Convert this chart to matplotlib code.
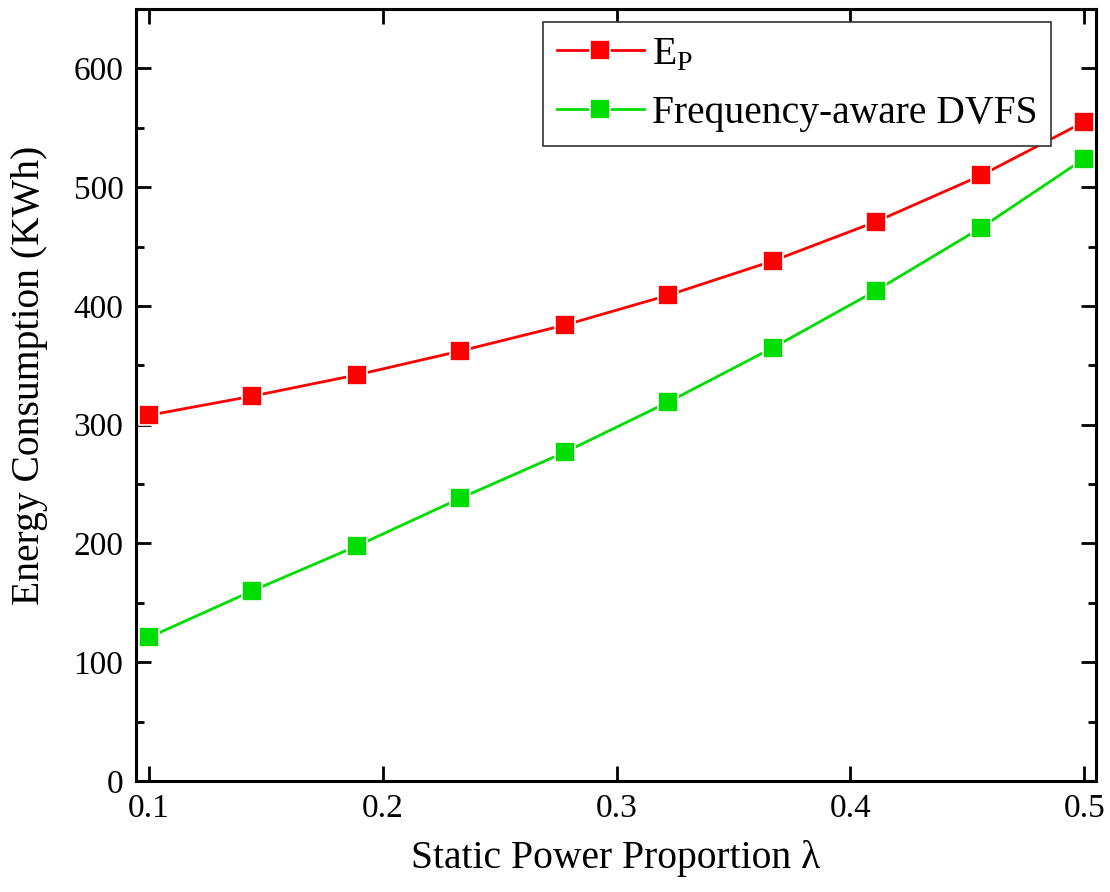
import matplotlib
matplotlib.use('Agg')
import matplotlib.pyplot as plt
from matplotlib.ticker import MultipleLocator

plt.rcParams['font.family'] = 'Liberation Serif'
plt.rcParams['mathtext.fontset'] = 'custom'
plt.rcParams['mathtext.rm'] = 'Liberation Serif'

# static power proportion
lam = [0.1, 0.144, 0.189, 0.233, 0.278, 0.322, 0.367, 0.411, 0.456, 0.5]

# energy consumption (KWh)
e_p = [308, 324, 342, 362, 384, 409, 438, 471, 510, 555]
dvfs = [121, 160, 198, 238, 277, 319, 365, 413, 466, 524]

fig = plt.figure(figsize=(11.1, 8.92), dpi=100)
ax = fig.add_axes([0.1225, 0.1244, 0.865, 0.8655])

ax.plot(lam, e_p, '-s', color='#ff0000', lw=2, ms=14,
        mec='white', mew=1.2, label=r'E$_\mathrm{P}$')
ax.plot(lam, dvfs, '-s', color='#00dd00', lw=2, ms=14,
        mec='white', mew=1.2, label='Frequency-aware DVFS')

ax.set_xlim(0.0944, 0.5051)
ax.set_ylim(0, 650)
ax.set_xticks([0.1, 0.2, 0.3, 0.4, 0.5])
ax.yaxis.set_major_locator(MultipleLocator(100))
ax.yaxis.set_minor_locator(MultipleLocator(50))

ax.tick_params(which='both', direction='in', top=True, right=True,
               width=2, labelsize=24, pad=9)
ax.tick_params(which='major', length=11)
ax.tick_params(which='minor', length=6)
for s in ax.spines.values():
    s.set_linewidth(2.2)

ax.set_xlabel('Static Power Proportion λ', fontsize=28.5)
ax.set_ylabel('Energy Consumption (KWh)', fontsize=28.5)
ax.xaxis.set_label_coords(0.5, -0.0764)
ax.yaxis.set_label_coords(-0.0917, 0.525)

leg = ax.legend(loc='upper left', bbox_to_anchor=(0.424, 0.983), fontsize=28.5,
                fancybox=False, edgecolor='#333333', framealpha=1,
                handlelength=2.2, handletextpad=0.2, borderpad=0.35,
                labelspacing=0.55, borderaxespad=0)
leg.get_frame().set_linewidth(1.2)

fig.savefig('out.png', dpi=100)
